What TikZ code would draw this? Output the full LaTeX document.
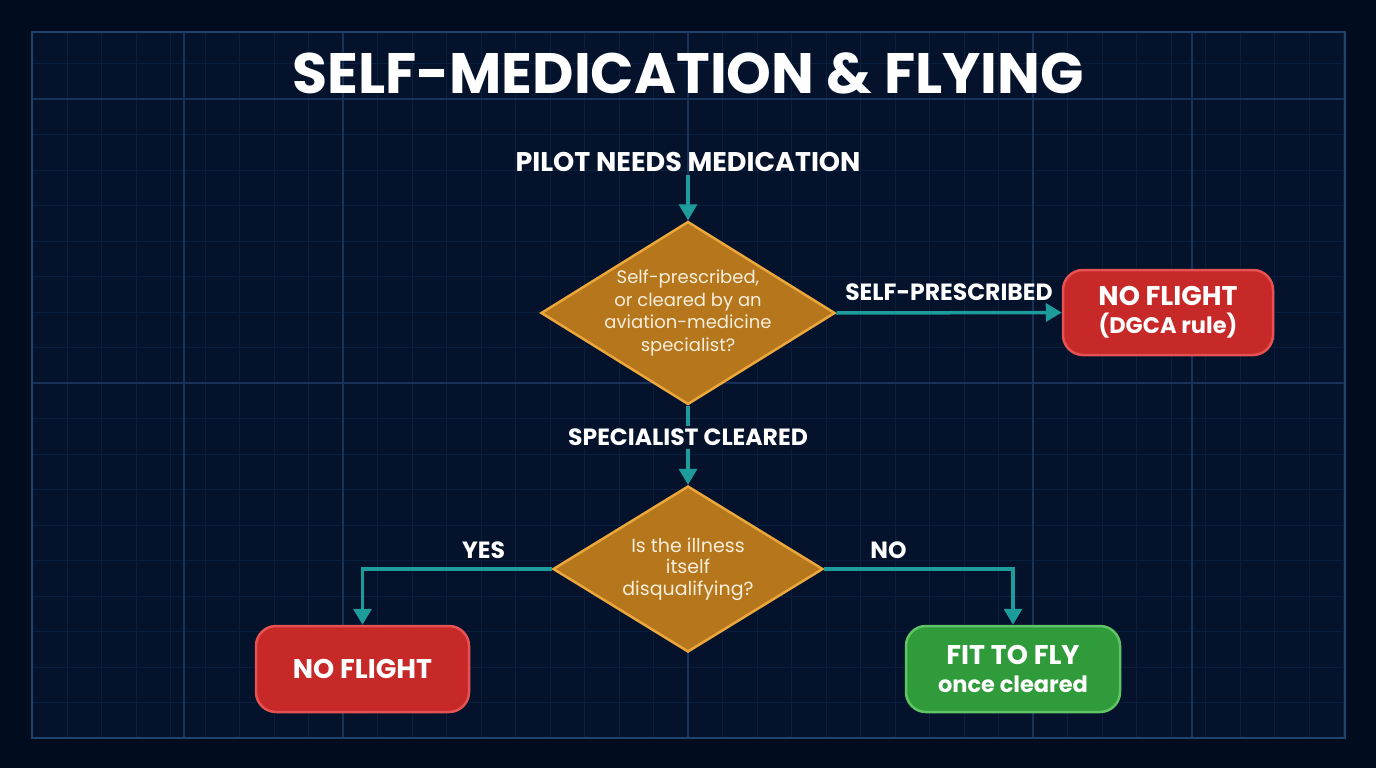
\documentclass[tikz,border=0pt]{standalone}
\usepackage{fontspec}
\setmainfont{Poppins}
\usetikzlibrary{shapes.geometric,arrows.meta}
\definecolor{bgout}{HTML}{020C1F}
\definecolor{bgin}{HTML}{04122C}
\definecolor{gridminor}{HTML}{0A1E3D}
\definecolor{gridmajor}{HTML}{173158}
\definecolor{frameline}{HTML}{22426E}
\definecolor{arrowteal}{HTML}{1E9C9C}
\definecolor{dfill}{HTML}{B6761C}
\definecolor{dline}{HTML}{EBA73C}
\definecolor{dtext}{HTML}{F8EEDC}
\definecolor{rfill}{HTML}{C72828}
\definecolor{rline}{HTML}{E65252}
\definecolor{gfill}{HTML}{2F9B3B}
\definecolor{gline}{HTML}{5FC463}
\begin{document}
\begin{tikzpicture}[x=1pt,y=-1pt,
  decision/.style={diamond, fill=dfill, draw=dline, line width=2.5pt, inner sep=0pt},
  dlabel/.style={text=dtext, align=center, font=\fontsize{18}{22.5}\selectfont},
  terminal/.style={rounded corners=20pt, line width=2.5pt, align=center, text=white,
    font=\fontsize{27}{28}\selectfont\bfseries},
  redbox/.style={terminal, fill=rfill, draw=rline},
  greenbox/.style={terminal, fill=gfill, draw=gline},
  flow/.style={draw=arrowteal, line width=3.5pt, -{Triangle[width=18pt,length=16pt]}},
  flowlabel/.style={text=white, font=\fontsize{23.5}{26}\selectfont\bfseries}
]
\fill[bgout] (0,0) rectangle (1376,768);
\useasboundingbox (0,0) rectangle (1376,768);
\fill[bgin] (32,32) rectangle (1345,738);
\begin{scope}
  \clip (32,32) rectangle (1345,738);
  \foreach \i in {0,...,38} \draw[gridminor, line width=1pt] ({32.5+\i*34.5},32) -- ++(0,706);
  \foreach \j in {0,...,20} \draw[gridminor, line width=1pt] (32,{28+\j*35.5}) -- ++(1313,0);
  \foreach \x in {184,343,688,1033,1192} \draw[gridmajor, line width=1.5pt] (\x,32) -- (\x,738);
  \foreach \y in {99,383} \draw[gridmajor, line width=1.5pt] (32,\y) -- (1345,\y);
\end{scope}
\draw[frameline, line width=1.5pt] (32,32) rectangle (1345,738);

\node[text=white, font=\fontsize{57}{62}\selectfont\bfseries] (title) at (688,73) {SELF-MEDICATION \& FLYING};

\node[text=white, font=\fontsize{27}{30}\selectfont\bfseries] (start) at (688,162) {PILOT NEEDS MEDICATION};

\node[decision, minimum width=294pt, minimum height=183pt,
  label={[dlabel]center:Self-prescribed,\\or cleared by an\\aviation-medicine\\specialist?}] (d1) at (688,313) {};

\node[redbox, minimum width=210pt, minimum height=85pt] (nf1) at (1168,312.5) {NO FLIGHT\\{\fontsize{22.5}{28}\selectfont(DGCA rule)}};

\node[decision, minimum width=270pt, minimum height=166pt,
  label={[dlabel, font=\fontsize{19}{21.5}\selectfont]center:Is the illness\\itself\\disqualifying?}] (d2) at (688,569) {};

\node[redbox, minimum width=213pt, minimum height=86pt] (nf2) at (362.5,669) {NO FLIGHT};
\node[greenbox, minimum width=214pt, minimum height=86pt] (fit) at (1013,669) {FIT TO FLY\\{\fontsize{22.5}{28}\selectfont once cleared}};

\draw[flow] (start) -- (d1.north);
\draw[flow] (d1.east) -- node[flowlabel, midway, above=7pt] (lsp) {SELF-PRESCRIBED} (nf1.west);
\draw[flow] (d1.south) -- node[flowlabel, pos=0.4, fill=bgin, inner sep=3pt] (lsc) {SPECIALIST CLEARED} (d2.north);
\draw[flow] (d2.west) -| node[flowlabel, pos=0.18, above=5pt] (lyes) {YES} (nf2.north);
\draw[flow] (d2.east) -| node[flowlabel, pos=0.17, above=5pt] (lno) {NO} (fit.north);
\end{tikzpicture}
\end{document}
